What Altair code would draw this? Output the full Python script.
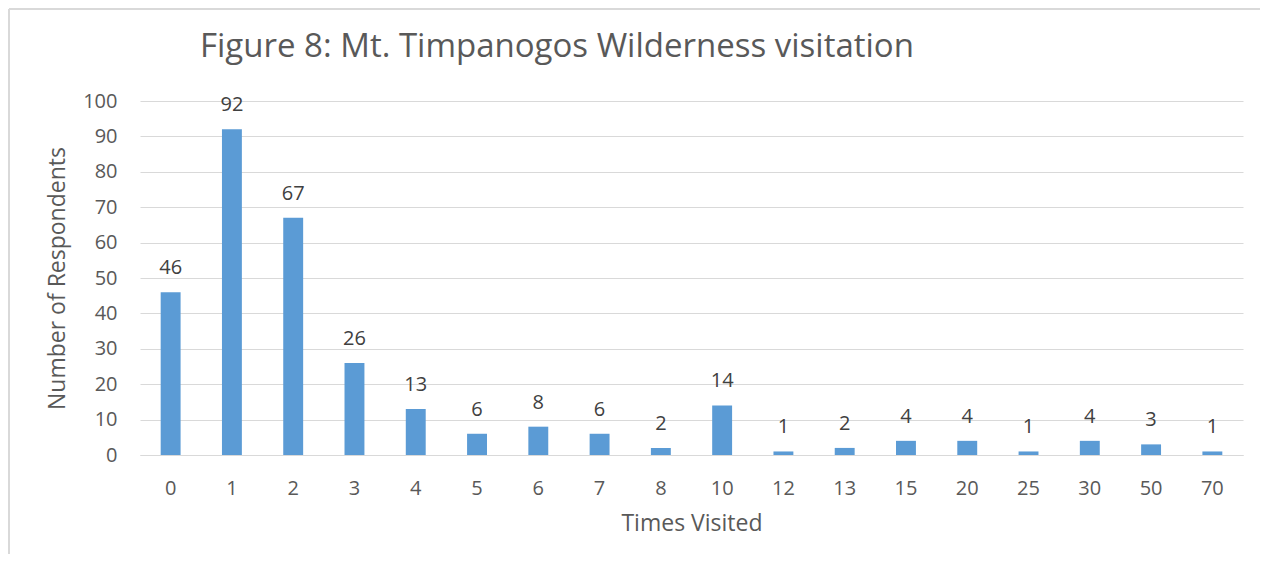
import altair as alt
import pandas as pd

categories = ["0", "1", "2", "3", "4", "5", "6", "7", "8", "10", "12", "13", "15", "20", "25", "30", "50", "70"]
respondents = [46, 92, 67, 26, 13, 6, 8, 6, 2, 14, 1, 2, 4, 4, 1, 4, 3, 1]
y_ticks = [0, 10, 20, 30, 40, 50, 60, 70, 80, 90, 100]
title_text = "Figure 8: Mt. Timpanogos Wilderness visitation"

df = pd.DataFrame({"times": categories, "n": respondents})

FONT = "Open Sans"
BAR = "#5B9BD5"
GREY = "#595959"

x = alt.X("times:N", sort=categories, title="Times Visited",
          scale=alt.Scale(paddingInner=0.675, paddingOuter=0.3375),
          axis=alt.Axis(labelAngle=0, labelFontSize=20, labelColor=GREY, labelPadding=23,
                        titleFontSize=23, titleColor=GREY, titleFontWeight="normal", titlePadding=14,
                        domain=True, domainColor="#d9d9d9", ticks=False, labelFont=FONT, titleFont=FONT))
y = alt.Y("n:Q", title="Number of Respondents",
          scale=alt.Scale(domain=[0, 100]),
          axis=alt.Axis(values=y_ticks, labelFontSize=20, labelColor=GREY, labelPadding=23,
                        labelOverlap=False,
                        titleFontSize=23, titleColor=GREY, titleFontWeight="normal", titlePadding=13,
                        domain=False, ticks=False, gridColor="#d9d9d9", labelFont=FONT, titleFont=FONT))

bars = alt.Chart(df).mark_bar(color=BAR).encode(x=x, y=y)
labels = alt.Chart(df).mark_text(fontSize=20, color="#404040", baseline="alphabetic", dy=-18, font=FONT).encode(
    x=x, y=y, text="n:Q")

border = alt.Chart(df).mark_rule(stroke="#d9d9d9", strokeWidth=1.5, clip=False).encode(
    x=alt.value(-131), x2=alt.value(1200), y=alt.value(-92))
border_left = alt.Chart(df).mark_rule(stroke="#d9d9d9", strokeWidth=1.5, clip=False).encode(
    x=alt.value(-131), y=alt.value(-92), y2=alt.value(520))

title = alt.Chart(pd.DataFrame({"t": [title_text]})).mark_text(
    fontSize=33, font=FONT, color=GREY, align="left", baseline="alphabetic").encode(
    x=alt.value(60), y=alt.value(-44), text="t:N")

chart = alt.layer(border, border_left, bars, labels, title).properties(
    width=1103, height=354,
    autosize=alt.AutoSizeParams(type="none"),
    padding={"left": 132, "top": 93, "right": 17, "bottom": 99},
).configure_view(stroke=None)

chart.save("out.html", embed_options={"renderer": "svg", "actions": False})
